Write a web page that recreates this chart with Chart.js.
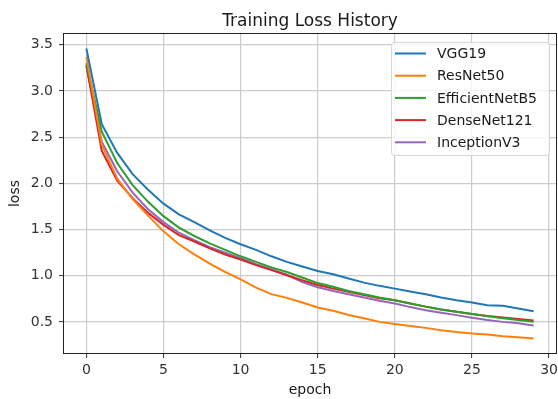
<!DOCTYPE html>
<html>
<head>
<meta charset="utf-8">
<script src="https://cdn.jsdelivr.net/npm/chart.js@4"></script>
<style>
  html, body { margin: 0; padding: 0; background: #ffffff; }
  #wrap { width: 558px; height: 399px; }
</style>
</head>
<body>
<div id="wrap"><canvas id="c" width="558" height="399"></canvas></div>
<script>
// Training loss per epoch for each backbone
const epochs = [0,1,2,3,4,5,6,7,8,9,10,11,12,13,14,15,16,17,18,19,20,21,22,23,24,25,26,27,28,29];
const seriesNames = ['VGG19', 'ResNet50', 'EfficientNetB5', 'DenseNet121', 'InceptionV3'];
const vgg19 = [3.46, 2.64, 2.33, 2.10, 1.93, 1.78, 1.665, 1.58, 1.49, 1.41, 1.34, 1.28, 1.21, 1.15, 1.10, 1.05, 1.015, 0.97, 0.925, 0.89, 0.86, 0.83, 0.80, 0.765, 0.735, 0.71, 0.68, 0.675, 0.645, 0.615];
const resnet50 = [3.37, 2.42, 2.05, 1.83, 1.65, 1.48, 1.34, 1.23, 1.13, 1.04, 0.96, 0.87, 0.80, 0.76, 0.71, 0.655, 0.62, 0.575, 0.54, 0.50, 0.476, 0.455, 0.435, 0.41, 0.39, 0.375, 0.362, 0.345, 0.333, 0.32];
const efficientNetB5 = [3.30, 2.56, 2.22, 1.98, 1.80, 1.645, 1.52, 1.43, 1.35, 1.28, 1.21, 1.15, 1.09, 1.04, 0.98, 0.92, 0.88, 0.835, 0.80, 0.765, 0.735, 0.70, 0.665, 0.635, 0.61, 0.585, 0.562, 0.54, 0.52, 0.50];
const denseNet121 = [3.28, 2.35, 2.03, 1.84, 1.68, 1.55, 1.44, 1.37, 1.295, 1.23, 1.175, 1.115, 1.06, 1.005, 0.95, 0.90, 0.86, 0.825, 0.79, 0.755, 0.735, 0.70, 0.665, 0.635, 0.61, 0.585, 0.565, 0.547, 0.53, 0.515];
const inceptionV3 = [3.27, 2.45, 2.13, 1.90, 1.72, 1.58, 1.465, 1.385, 1.31, 1.25, 1.19, 1.125, 1.07, 1.01, 0.93, 0.875, 0.835, 0.80, 0.765, 0.728, 0.70, 0.66, 0.627, 0.60, 0.573, 0.545, 0.52, 0.50, 0.484, 0.462];
const xTicks = [0, 5, 10, 15, 20, 25, 30];
const yTicks = [0.5, 1.0, 1.5, 2.0, 2.5, 3.0, 3.5];

const allSeries = [vgg19, resnet50, efficientNetB5, denseNet121, inceptionV3];
const colors = ['#1f77b4', '#ff7f0e', '#2ca02c', '#d62728', '#9467bd'];
const FONT = "'DejaVu Sans', sans-serif";

// axis limits with a 5% margin around the data, like matplotlib autoscaling
const xPad = (epochs[epochs.length - 1] - epochs[0]) * 0.05;
const flat = allSeries.flat();
const yMinData = Math.min(...flat), yMaxData = Math.max(...flat);
const yPad = (yMaxData - yMinData) * 0.05;

const datasets = seriesNames.map((name, i) => ({
  label: name,
  data: epochs.map((e, k) => ({ x: e, y: allSeries[i][k] })),
  borderColor: colors[i],
  backgroundColor: colors[i],
  borderWidth: 2,
  pointRadius: 0,
  pointHoverRadius: 0,
  tension: 0,
  fill: false
}));

// frame, title and legend drawn on top of the plot
const decor = {
  id: 'decor',
  afterDraw(chart) {
    const ctx = chart.ctx;
    const a = chart.chartArea;
    ctx.save();
    // frame around the axes
    ctx.strokeStyle = '#222222';
    ctx.lineWidth = 1;
    const l = Math.round(a.left) - 0.5, t = Math.round(a.top) - 0.5;
    const r = Math.round(a.right) + 0.5, b = Math.round(a.bottom) + 0.5;
    ctx.strokeRect(l, t, r - l, b - t);

    // title
    ctx.fillStyle = '#1a1a1a';
    ctx.font = '17px ' + FONT;
    ctx.textAlign = 'center';
    ctx.textBaseline = 'alphabetic';
    ctx.fillText('Training Loss History', (a.left + a.right) / 2, 26);

    // legend
    const boxR = a.right - 7, boxT = a.top + 8;
    const boxW = 158, boxH = 113;
    const boxL = boxR - boxW;
    ctx.beginPath();
    ctx.roundRect(boxL + 0.5, boxT + 0.5, boxW, boxH, 3);
    ctx.fillStyle = 'rgba(255,255,255,0.8)';
    ctx.fill();
    ctx.strokeStyle = '#d6d6d6';
    ctx.lineWidth = 1;
    ctx.stroke();
    ctx.font = '14px ' + FONT;
    ctx.textAlign = 'left';
    ctx.textBaseline = 'middle';
    chart.data.datasets.forEach((ds, i) => {
      const y = boxT + 11.5 + i * 22.2;
      ctx.strokeStyle = ds.borderColor;
      ctx.lineWidth = 2;
      ctx.beginPath();
      ctx.moveTo(boxL + 4, y);
      ctx.lineTo(boxL + 35, y);
      ctx.stroke();
      ctx.fillStyle = '#1a1a1a';
      ctx.fillText(ds.label, boxL + 46, y + 1);
    });
    ctx.restore();
  }
};

new Chart(document.getElementById('c'), {
  type: 'line',
  data: { datasets },
  options: {
    responsive: false,
    animation: false,
    events: [],
    layout: { padding: { top: 34, right: 2, left: 0, bottom: 0 } },
    plugins: { legend: { display: false }, tooltip: { enabled: false }, title: { display: false } },
    scales: {
      x: {
        type: 'linear',
        min: epochs[0] - xPad,
        max: epochs[epochs.length - 1] + xPad,
        afterBuildTicks(scale) { scale.ticks = xTicks.map(v => ({ value: v })); },
        afterFit(scale) { scale.height = 46; scale.paddingLeft = 0; scale.paddingRight = 0; },
        ticks: {
          includeBounds: false,
          color: '#333333',
          font: { family: FONT, size: 14 },
          padding: 4,
          maxRotation: 0,
          callback: v => String(v)
        },
        grid: { color: '#cccccc', lineWidth: 1.2, tickColor: '#333333', tickLength: 5, tickWidth: 1 },
        border: { display: false },
        title: { display: true, text: 'epoch', color: '#1a1a1a', font: { family: FONT, size: 14 }, padding: { top: -1, bottom: 0 } }
      },
      y: {
        type: 'linear',
        min: yMinData - yPad,
        max: yMaxData + yPad,
        afterBuildTicks(scale) { scale.ticks = yTicks.map(v => ({ value: v })); },
        afterFit(scale) { scale.width = 64; scale.paddingTop = 0; scale.paddingBottom = 0; },
        ticks: {
          includeBounds: false,
          color: '#333333',
          font: { family: FONT, size: 14 },
          padding: 6,
          callback: v => Number(v).toFixed(1)
        },
        grid: { color: '#cccccc', lineWidth: 1.2, tickColor: '#333333', tickLength: 5, tickWidth: 1 },
        border: { display: false },
        title: { display: true, text: 'loss', color: '#1a1a1a', font: { family: FONT, size: 14 }, padding: { top: 7, bottom: 0 } }
      }
    }
  },
  plugins: [decor]
});
</script>
</body>
</html>
